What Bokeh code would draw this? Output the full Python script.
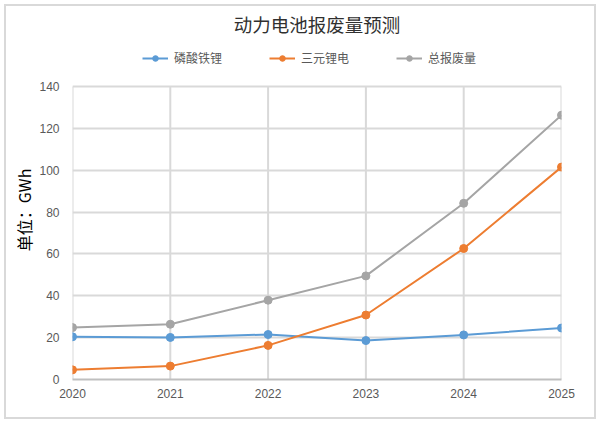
from bokeh.plotting import figure
from bokeh.models import Range1d, Legend, LegendItem, FixedTicker
from bokeh.embed import file_html
from bokeh.resources import INLINE

years = [2020, 2021, 2022, 2023, 2024, 2025]
lfp = [20.4, 20.1, 21.5, 18.6, 21.3, 24.6]
ncm = [4.6, 6.4, 16.3, 30.8, 62.6, 101.5]
total = [24.8, 26.4, 37.9, 49.5, 84.2, 126.3]
y_ticks = [0, 20, 40, 60, 80, 100, 120, 140]
series_names = ["磷酸铁锂", "三元锂电", "总报废量"]
series_colors = ["#5b9bd5", "#ed7d31", "#a5a5a5"]
title_text = "动力电池报废量预测"
y_label = "单位：GWh"

W, H = 600, 423
B_LEFT, B_RIGHT, B_TOP, B_BOTTOM = 72, 39, 40, 44
GRID_TOP_PX = 86  # pixel row of the top gridline
frame_h = H - B_TOP - B_BOTTOM
y_max = y_ticks[-1] * frame_h / (H - B_BOTTOM - GRID_TOP_PX)

p = figure(
    width=W, height=H,
    min_border_left=B_LEFT, min_border_right=B_RIGHT,
    min_border_top=B_TOP, min_border_bottom=B_BOTTOM,
    x_range=Range1d(years[0], years[-1]), y_range=Range1d(0, y_max),
    output_backend="svg", toolbar_location=None,
    title=title_text,
)
p.styles = {"box-shadow": "inset 0 0 0 4px #ffffff, inset 0 0 0 6px #d9d9d9",
            "background-color": "#ffffff"}
p.outline_line_color = None
p.background_fill_color = "white"
p.border_fill_color = None

p.title.align = "center"
p.title.text_font = "Noto Sans CJK SC"
p.title.text_font_size = "18.5px"
p.title.text_font_style = "normal"
p.title.text_color = "#303030"
p.title.standoff = 8

# vertical gridlines, only up to the top tick
p.segment(x0=years, y0=[y_ticks[0]] * len(years), x1=years, y1=[y_ticks[-1]] * len(years),
          line_color="#d9d9d9", line_width=2, level="underlay")

items = []
for vals, name, col in zip([lfp, ncm, total], series_names, series_colors):
    r1 = p.line(years, vals, line_color=col, line_width=2)
    r2 = p.scatter(years, vals, size=8, fill_color=col, line_color=col)
    items.append(LegendItem(label=name, renderers=[r1, r2]))

legend = Legend(items=items, orientation="horizontal", location=(70, 313),
                glyph_width=26, glyph_height=14, label_standoff=6, spacing=47,
                padding=4, margin=0, border_line_color=None,
                label_text_font="Noto Sans CJK SC", label_text_font_size="12px",
                label_text_color="#595959", background_fill_alpha=0)
p.add_layout(legend, "center")

p.xaxis.ticker = FixedTicker(ticks=years)
p.yaxis.ticker = FixedTicker(ticks=y_ticks)
for ax in (p.xaxis, p.yaxis):
    ax.major_tick_line_color = None
    ax.minor_tick_line_color = None
    ax.major_label_text_font = "Liberation Sans"
    ax.major_label_text_font_size = "12px"
    ax.major_label_text_color = "#595959"
p.xaxis.axis_line_color = "#bfbfbf"
p.xaxis.axis_line_width = 2
p.xaxis.major_label_standoff = 3
p.yaxis.axis_line_color = None
p.yaxis.major_label_standoff = 7
p.yaxis.axis_label = y_label
p.yaxis.axis_label_text_font = "Noto Sans CJK SC"
p.yaxis.axis_label_text_font_size = "16px"
p.yaxis.axis_label_text_font_style = "normal"
p.yaxis.axis_label_text_color = "#000000"
p.yaxis.axis_label_standoff = 0

p.xgrid.visible = False
p.ygrid.ticker = FixedTicker(ticks=y_ticks)
p.ygrid.grid_line_color = "#d9d9d9"
p.ygrid.grid_line_width = 2

open("out.html", "w").write(file_html(p, INLINE))
